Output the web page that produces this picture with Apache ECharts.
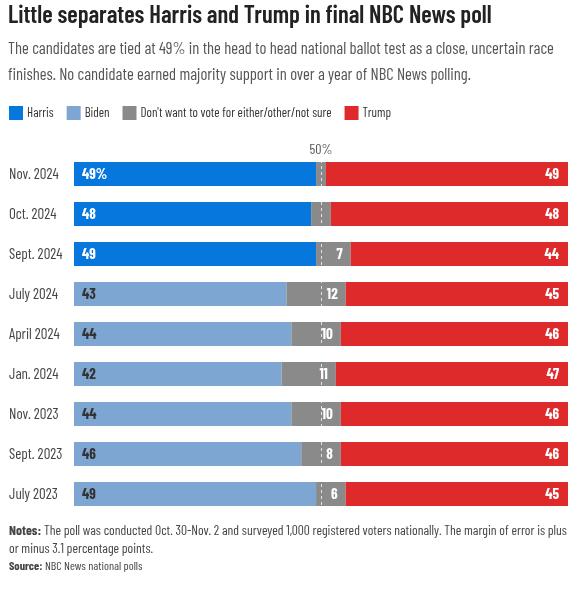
<!DOCTYPE html>
<html>
<head>
<meta charset="utf-8">
<script src="https://cdn.jsdelivr.net/npm/echarts@6/dist/echarts.min.js"></script>
<style>
	html, body { margin: 0; padding: 0; background: #fff; }
	#main { width: 579px; height: 592px; }
</style>
</head>
<body>
<div id="main"></div>
<script>
// 数据
const categories = ['Nov. 2024', 'Oct. 2024', 'Sept. 2024', 'July 2024', 'April 2024', 'Jan. 2024', 'Nov. 2023', 'Sept. 2023', 'July 2023'];
const harris = [49, 48, 49, null, null, null, null, null, null];
const biden = [null, null, null, 43, 44, 42, 44, 46, 49];
const other = [2, 4, 7, 12, 10, 11, 10, 8, 6];
const trump = [49, 48, 44, 45, 46, 47, 46, 46, 45];

(function() {
	let myChart = echarts.init(document.getElementById('main'));
	const font = "'Barlow Condensed', 'Roboto Condensed', sans-serif";

	let valueLabel = {
		show: true,
		color: '#fff',
		fontFamily: font,
		fontWeight: 'bold',
		fontSize: 15
	};

	let option = {
		textStyle: { fontFamily: font },
		title: {
			text: 'Little separates Harris and Trump in final NBC News poll',
			subtext: 'The candidates are tied at 49% in the head to head national ballot test as a close, uncertain race\nfinishes. No candidate earned majority support in over a year of NBC News polling.',
			left: 8,
			top: 2,
			padding: 0,
			itemGap: 8,
			textStyle: {
				fontFamily: font,
				fontSize: 24.5,
				fontWeight: 600,
				color: '#222'
			},
			subtextStyle: {
				fontFamily: font,
				fontSize: 16.6,
				lineHeight: 26,
				color: '#555'
			}
		},
		legend: {
			left: 9,
			top: 106,
			padding: 0,
			itemWidth: 14,
			itemHeight: 14,
			itemGap: 13,
			icon: 'rect',
			textStyle: { fontFamily: font, fontSize: 13, color: '#333', padding: [0, 0, 0, -1] },
			data: ['Harris', 'Biden', "Don't want to vote for either/other/not sure", 'Trump']
		},
		grid: {
			left: 74,
			right: 11,
			top: 154,
			bottom: 78
		},
		xAxis: {
			type: 'value',
			min: 0,
			max: 100,
			show: false
		},
		yAxis: {
			type: 'category',
			inverse: true,
			data: categories,
			axisLine: { show: false },
			axisTick: { show: false },
			axisLabel: {
				align: 'left',
				margin: 65,
				color: '#444',
				fontSize: 15,
				fontFamily: font
			}
		},
		series: [
			{
				name: 'Harris',
				type: 'bar',
				stack: 'poll',
				barWidth: 24,
				itemStyle: { color: '#0677dc' },
				label: Object.assign({}, valueLabel, {
					position: 'insideLeft',
					distance: 8,
					formatter: function(p) { return p.dataIndex === 0 ? p.value + '%' : p.value; }
				}),
				data: harris
			},
			{
				name: 'Biden',
				type: 'bar',
				stack: 'poll',
				barWidth: 24,
				itemStyle: { color: '#7ea6d3' },
				label: Object.assign({}, valueLabel, { position: 'insideLeft', distance: 8, color: '#333' }),
				data: biden
			},
			{
				name: "Don't want to vote for either/other/not sure",
				type: 'bar',
				stack: 'poll',
				barWidth: 24,
				itemStyle: { color: '#8a8a8a' },
				label: Object.assign({}, valueLabel, {
					position: 'insideRight',
					distance: 8,
					formatter: function(p) { return p.value >= 6 ? p.value : ''; }
				}),
				data: other
			},
			{
				name: 'Trump',
				type: 'bar',
				stack: 'poll',
				barWidth: 24,
				itemStyle: { color: '#de2a2a' },
				label: Object.assign({}, valueLabel, { position: 'insideRight', distance: 9 }),
				markLine: {
					silent: true,
					symbol: 'none',
					lineStyle: { color: 'rgba(255,255,255,0.75)', type: [3, 3], width: 1 },
					label: {
						show: true,
						position: 'start',
						distance: -2,
						formatter: '50%',
						color: '#555',
						fontSize: 14,
						fontFamily: font
					},
					data: [{ xAxis: 50 }]
				},
				data: trump
			}
		],
		graphic: [
			{
				type: 'text',
				left: 9,
				top: 521,
				style: {
					text: '{b|Notes:} The poll was conducted Oct. 30-Nov. 2 and surveyed 1,000 registered voters nationally. The margin of error is plus\nor minus 3.1 percentage points.',
					fontFamily: font,
					fontSize: 13.6,
					lineHeight: 18,
					fill: '#444',
					rich: {
						b: { fontFamily: font, fontSize: 13.6, fontWeight: 'bold', fill: '#444' }
					}
				}
			},
			{
				type: 'text',
				left: 9,
				top: 560,
				style: {
					text: '{b|Source:} NBC News national polls',
					fontFamily: font,
					fontSize: 12,
					fill: '#444',
					rich: {
						b: { fontFamily: font, fontSize: 12, fontWeight: 'bold', fill: '#444' }
					}
				}
			}
		]
	};

	myChart.setOption(option);

	window.addEventListener('resize', function() {
		myChart.resize();
	})
})();
</script>
</body>
</html>
